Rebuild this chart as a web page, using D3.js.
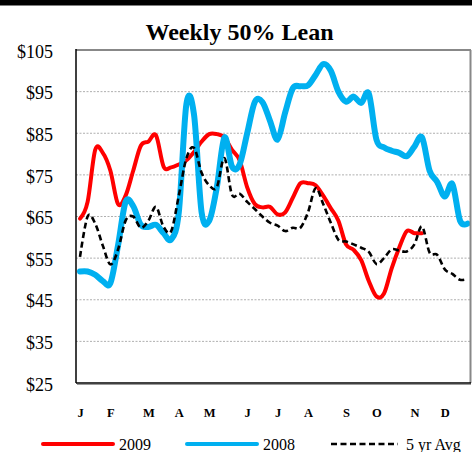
<!DOCTYPE html>
<html>
<head>
<meta charset="utf-8">
<script src="https://cdn.jsdelivr.net/npm/d3@7"></script>
<style>
  body { margin: 0; background: #fff; }
  svg { display: block; }
</style>
</head>
<body>
<div id="chart-region"></div>
<script>
const W = 472, H = 452;
const PLOT = {LEFT: 76, RIGHT: 471, TOP: 50, BOTTOM: 383};

// weekly values, week 0..51
const weeks = d3.range(52);
const lean2009 = [64.5, 68.5, 81, 80.3, 76, 68, 70, 76, 82, 83,
                  84.5, 77, 76.8, 77.5, 78.5, 80.5, 83, 84.8, 84.8, 84,
                  81, 78.5, 72, 68, 67.2, 67.3, 65.5, 66, 69.5, 73,
                  73, 72.5, 70, 67, 64, 58.3, 57, 54.5, 49.5, 45.8,
                  46.5, 52.5, 57.5, 61.5, 61, 61];
const lean2008 = [51.8, 51.8, 51, 49.5, 49, 58, 68.5, 67.5, 63, 62.5,
                  63, 61, 59.5, 66, 92, 89.5, 66, 64, 72, 84,
                  77, 77.5, 85, 92.5, 92.5, 88, 83.5, 90, 95.8, 96.3,
                  96.5, 99, 101.6, 100, 95, 92.6, 93.8, 92.3, 94.5, 83.5,
                  81.6, 80.8, 80.3, 79.5, 81.8, 84, 76, 73.3, 69.8, 72.8,
                  64, 63.3];
const avg5yr = [55.3, 65, 63.3, 58, 53.5, 57, 64, 65, 62.3, 64,
                67.3, 62.5, 61.5, 70, 79, 81.5, 75.5, 72.5, 72, 79,
                70.2, 70.5, 68.5, 66.8, 65, 63.5, 62.8, 61.5, 62.3, 62.3,
                66, 71.8, 68, 63.5, 59.4, 59, 58.3, 57.5, 56.5, 53.6,
                55, 57.1, 56.8, 56.6, 58.3, 62.6, 56.3, 55.8, 52.3, 51.2,
                49.8, 50];

const monthWeeks = [0, 4, 9, 13, 17, 22, 26, 30, 35, 39, 44, 48];
const monthLabels = ["J", "F", "M", "A", "M", "J", "J", "A", "S", "O", "N", "D"];
const yTickValues = [25, 35, 45, 55, 65, 75, 85, 95, 105];

const series = [
    {name: "2009", values: lean2009, color: "#ff0000", width: 4, dash: null},
    {name: "2008", values: lean2008, color: "#00b0f0", width: 6, dash: null},
    {name: "5 yr Avg", values: avg5yr, color: "#000000", width: 2.6, dash: "6,3.5"}
];

const chart = d3.select("#chart-region").append("svg")
    .attr("width", W)
    .attr("height", H);

// top black band
chart.append("rect")
    .attr("x", 0).attr("y", 0)
    .attr("width", W).attr("height", 5.5)
    .attr("fill", "#000");

const xScale = d3.scaleLinear().domain([0, 51]).range([80, 467.6]);
const yScale = d3.scaleLinear().domain([25, 105]).range([PLOT.BOTTOM, PLOT.TOP]);

// title
chart.append("text")
    .attr("x", 239.5)
    .attr("y", 40)
    .attr("text-anchor", "middle")
    .attr("font-family", "'Liberation Serif', 'Times New Roman', serif")
    .attr("font-weight", "bold")
    .attr("font-size", "24px")
    .text("Weekly 50% Lean");

// gridlines
chart.append("g")
    .selectAll("line")
    .data(yTickValues.slice(1, -1))
    .enter()
    .append("line")
    .attr("x1", PLOT.LEFT)
    .attr("x2", PLOT.RIGHT)
    .attr("y1", d => yScale(d))
    .attr("y2", d => yScale(d))
    .attr("stroke", "#9a9a9a")
    .attr("stroke-width", 0.8)
    .attr("stroke-dasharray", "2,1.5");

// y axis
const yAxis = chart.append("g")
    .attr("transform", `translate(${PLOT.LEFT}, 0)`)
    .call(d3.axisLeft(yScale).tickValues(yTickValues).tickSize(0).tickPadding(23).tickFormat(d => "$" + d));
yAxis.select(".domain").remove();
yAxis.selectAll("text")
    .attr("font-family", "'Liberation Serif', 'Times New Roman', serif")
    .attr("font-size", "18px")
    .attr("dy", "0.4em")
    .attr("fill", "#000");

// x axis (months)
const xAxis = chart.append("g")
    .attr("transform", `translate(0, ${PLOT.BOTTOM})`)
    .call(d3.axisBottom(xScale).tickValues(monthWeeks).tickSize(0).tickPadding(0)
        .tickFormat((d, i) => monthLabels[i]));
xAxis.select(".domain").remove();
xAxis.selectAll("text")
    .attr("font-family", "'Liberation Serif', 'Times New Roman', serif")
    .attr("font-weight", "bold")
    .attr("font-size", "12.5px")
    .attr("dy", "0")
    .attr("y", 34)
    .attr("fill", "#000");

// lines
const line = d3.line()
    .x((d, i) => xScale(weeks[i]))
    .y(d => yScale(d))
    .curve(d3.curveCardinal.tension(0));

chart.append("g")
    .selectAll("path")
    .data(series)
    .enter()
    .append("path")
    .attr("d", d => line(d.values))
    .attr("fill", "none")
    .attr("stroke", d => d.color)
    .attr("stroke-width", d => d.width)
    .attr("stroke-linecap", d => d.dash ? "butt" : "round")
    .attr("stroke-linejoin", "round")
    .attr("stroke-dasharray", d => d.dash);

// frame
const frame = chart.append("g");
frame.append("line")
    .attr("x1", PLOT.LEFT).attr("x2", PLOT.RIGHT)
    .attr("y1", PLOT.TOP).attr("y2", PLOT.TOP)
    .attr("stroke", "#888").attr("stroke-width", 2);
frame.append("line")
    .attr("x1", PLOT.RIGHT - 0.5).attr("x2", PLOT.RIGHT - 0.5)
    .attr("y1", PLOT.TOP).attr("y2", PLOT.BOTTOM)
    .attr("stroke", "#888").attr("stroke-width", 2);
frame.append("line")
    .attr("x1", PLOT.LEFT + 1).attr("x2", PLOT.RIGHT)
    .attr("y1", PLOT.BOTTOM + 1.5).attr("y2", PLOT.BOTTOM + 1.5)
    .attr("stroke", "#999").attr("stroke-width", 1.2);
frame.append("line")
    .attr("x1", PLOT.LEFT).attr("x2", PLOT.LEFT)
    .attr("y1", PLOT.TOP - 1).attr("y2", PLOT.BOTTOM)
    .attr("stroke", "#000").attr("stroke-width", 1.5);
frame.append("line")
    .attr("x1", PLOT.LEFT).attr("x2", PLOT.RIGHT)
    .attr("y1", PLOT.BOTTOM).attr("y2", PLOT.BOTTOM)
    .attr("stroke", "#000").attr("stroke-width", 1.5);

// legend
const legendX = [43, 187, 331];
const legend = chart.append("g")
    .selectAll("g")
    .data(series)
    .enter()
    .append("g")
    .attr("transform", (d, i) => `translate(${legendX[i]}, 444)`);
legend.append("line")
    .attr("x1", 0).attr("x2", d => d.dash ? 67 : 70)
    .attr("y1", 0).attr("y2", 0)
    .attr("stroke", d => d.color)
    .attr("stroke-width", d => d.dash ? 2.6 : 4)
    .attr("stroke-linecap", d => d.dash ? "butt" : "round")
    .attr("stroke-dasharray", d => d.dash);
legend.append("text")
    .attr("x", d => d.dash ? 75 : 76)
    .attr("y", 6)
    .attr("font-family", "'Liberation Serif', 'Times New Roman', serif")
    .attr("font-size", "16px")
    .text(d => d.name);
</script>
</body>
</html>
